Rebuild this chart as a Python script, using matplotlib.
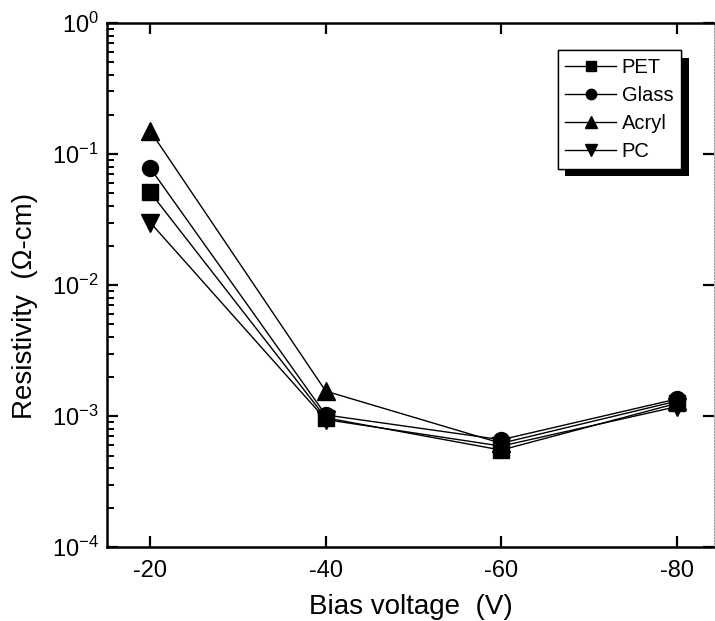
import numpy as np
import matplotlib.pyplot as plt
import matplotlib.patheffects as pe
from matplotlib.ticker import FixedLocator, NullFormatter

plt.rcParams['font.family'] = ['Liberation Sans', 'DejaVu Sans']
plt.rcParams['mathtext.fontset'] = 'custom'
plt.rcParams['mathtext.rm'] = 'Liberation Sans'

bias = [-20, -40, -60, -80]
pet = [0.051, 0.00097, 0.00055, 0.00125]
glass = [0.078, 0.00102, 0.00066, 0.00135]
acryl = [0.150, 0.00155, 0.00062, 0.00130]
pc = [0.030, 0.00094, 0.00059, 0.00118]

series = [("PET", pet, "s", 11), ("Glass", glass, "o", 11.5),
          ("Acryl", acryl, "^", 12.5), ("PC", pc, "v", 12.5)]

decades = [-4, -3, -2, -1, 0]


def main():
    fig = plt.figure(figsize=(7.15, 6.21), dpi=100)
    ax = fig.add_axes([0.150, 0.119, 0.848, 0.844])

    for name, vals, m, ms in series:
        ax.plot(bias, vals, marker=m, color="black", markersize=ms,
                linewidth=1.0, label=name)

    ax.set_yscale("log")
    ax.set_ylim(1e-4, 1e0)
    ax.set_xlim(-15.1, -84.2)

    ax.set_xticks(bias)
    ax.set_xticklabels([str(b) for b in bias])
    ax.set_yticks([10.0 ** d for d in decades])
    ax.set_yticklabels([r"$\mathregular{10^{%d}}$" % d for d in decades])
    minors = [k * 10.0 ** d for d in decades[:-1] for k in range(2, 10)]
    ax.yaxis.set_minor_locator(FixedLocator(minors))
    ax.yaxis.set_minor_formatter(NullFormatter())

    ax.tick_params(axis="both", which="major", direction="in", length=8,
                   width=1.6, labelsize=17, top=True, right=True)
    ax.tick_params(axis="x", which="major", pad=9)
    ax.tick_params(axis="y", which="major", pad=6)
    ax.tick_params(axis="y", which="minor", direction="in", length=5,
                   width=1.4, left=True, right=False, color="black")

    for side in ["left", "bottom", "top"]:
        ax.spines[side].set_linewidth(1.8)
    ax.spines["right"].set_linestyle(":")
    ax.spines["right"].set_color("#999999")

    ax.set_xlabel("Bias voltage  (V)", fontsize=20, labelpad=9)
    ax.set_ylabel("Resistivity  (\u03a9-cm)", fontsize=20)
    ax.yaxis.set_label_coords(-0.114, 0.46)

    leg = ax.legend(loc="upper left", bbox_to_anchor=(0.743, 0.948),
                    borderaxespad=0, fontsize=14.5, frameon=True, fancybox=False,
                    edgecolor="black", handlelength=2.5, markerscale=0.65,
                    labelspacing=0.45, handletextpad=0.3, borderpad=0.38)
    frame = leg.get_frame()
    frame.set_linewidth(1.0)
    frame.set_alpha(1)
    frame.set_path_effects([
        pe.withSimplePatchShadow(offset=(5.5, -5.5), shadow_rgbFace="black", alpha=1),
        pe.Normal()])

    fig.savefig("out.png", dpi=100)


if __name__ == "__main__":
    main()
